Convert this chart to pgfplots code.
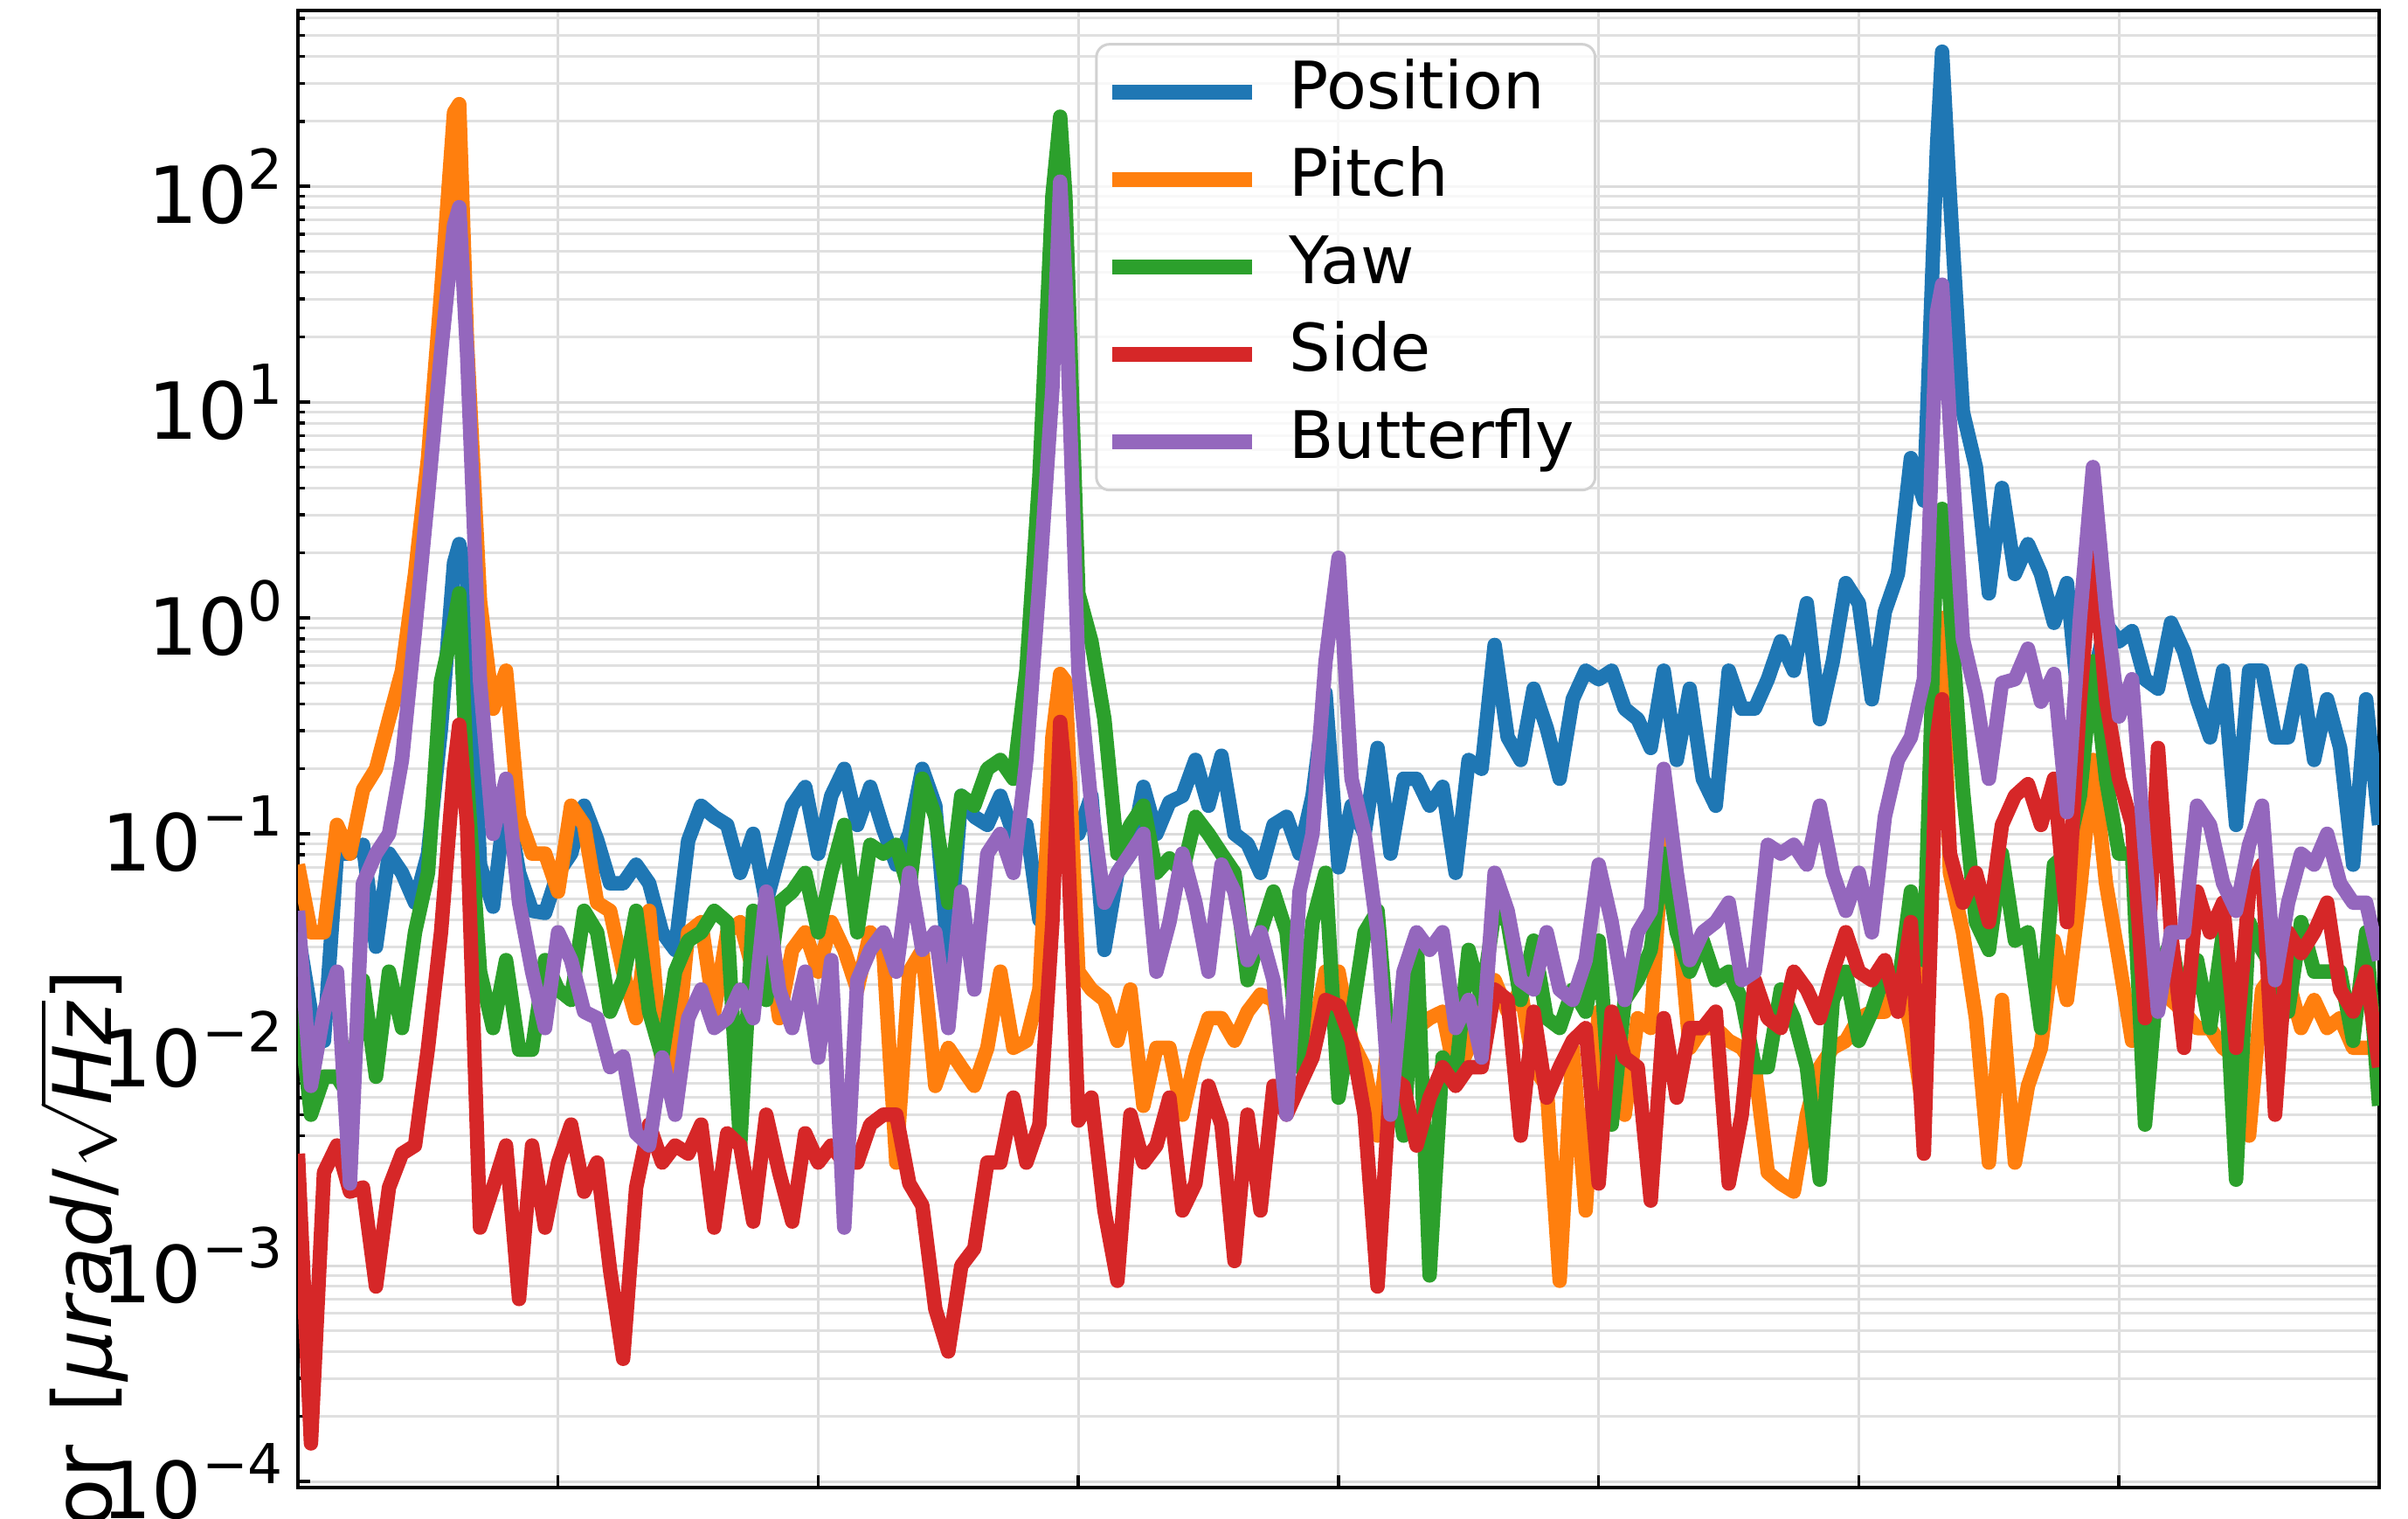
\documentclass[border=0pt]{standalone}
\usepackage{fontspec}
\setmainfont{DejaVu Sans}
\usepackage{pgfplots}
\usepackage{pgfplotstable}
\pgfplotsset{compat=1.18}
\definecolor{cpos}{HTML}{1F77B4}
\definecolor{cpit}{HTML}{FF7F0E}
\definecolor{cyaw}{HTML}{2CA02C}
\definecolor{csid}{HTML}{D62728}
\definecolor{cbfy}{HTML}{9467BD}
\newcommand\pten[1]{10\raisebox{0.44em}{\fontsize{12.6}{12.6}\selectfont #1}}
\pgfplotstableread{
x pos pit yaw sid bfy
0 0.035 0.072 0.017 0.0033 0.044
0.05 0.015 0.035 0.005 0.00015 0.0068
0.1 0.011 0.035 0.0075 0.0027 0.015
0.15 0.081 0.11 0.0075 0.0036 0.023
0.2 0.081 0.081 0.006 0.0022 0.0024
0.25 0.089 0.16 0.021 0.0023 0.059
0.3 0.030 0.2 0.0075 0.0008 0.081
0.35 0.081 0.34 0.023 0.0023 0.10
0.4 0.066 0.57 0.0126 0.0033 0.22
0.45 0.048 1.6 0.035 0.0036 0.87
0.5 0.081 5.5 0.066 0.0102 3.7
0.55 0.31 32 0.51 0.035 17
0.6 1.8 220 0.95 0.20 66
0.62 2.2 240 1.3 0.32 80
0.65 1.45 19 0.18 0.11 17
0.7 0.072 1.2 0.023 0.0015 0.51
0.75 0.046 0.38 0.0126 0.0023 0.10
0.8 0.15 0.57 0.026 0.0036 0.18
0.85 0.066 0.12 0.010 0.0007 0.048
0.9 0.044 0.081 0.010 0.0036 0.023
0.95 0.043 0.081 0.026 0.0015 0.0126
1.0 0.066 0.054 0.019 0.003 0.035
1.05 0.081 0.135 0.017 0.0045 0.026
1.1 0.135 0.11 0.044 0.0022 0.015
1.15 0.094 0.048 0.035 0.003 0.014
1.2 0.059 0.044 0.015 0.00095 0.0083
1.25 0.059 0.023 0.021 0.00037 0.0093
1.3 0.072 0.014 0.044 0.0023 0.0041
1.35 0.059 0.044 0.015 0.0045 0.0036
1.4 0.035 0.0083 0.0092 0.003 0.0092
1.45 0.029 0.0083 0.023 0.0036 0.005
1.5 0.093 0.035 0.032 0.0033 0.014
1.55 0.135 0.039 0.035 0.0045 0.019
1.6 0.12 0.015 0.044 0.0015 0.0126
1.65 0.11 0.035 0.039 0.0041 0.014
1.7 0.066 0.039 0.0036 0.0036 0.019
1.75 0.10 0.023 0.044 0.0016 0.014
1.8 0.048 0.035 0.017 0.005 0.054
1.85 0.081 0.014 0.048 0.0027 0.019
1.9 0.135 0.029 0.054 0.0016 0.0126
1.95 0.165 0.035 0.066 0.0041 0.023
2.0 0.081 0.023 0.035 0.003 0.0092
2.05 0.15 0.039 0.066 0.0036 0.026
2.1 0.20 0.029 0.11 0.003 0.0015
2.15 0.11 0.019 0.035 0.003 0.021
2.2 0.165 0.035 0.089 0.0045 0.029
2.25 0.105 0.029 0.081 0.005 0.035
2.3 0.072 0.003 0.089 0.005 0.023
2.35 0.10 0.023 0.054 0.0024 0.066
2.4 0.20 0.029 0.18 0.0019 0.029
2.45 0.135 0.0068 0.12 0.00063 0.035
2.5 0.026 0.0102 0.048 0.0004 0.0126
2.55 0.15 0.0083 0.15 0.001 0.054
2.6 0.12 0.0068 0.135 0.0012 0.019
2.65 0.11 0.0102 0.20 0.003 0.081
2.7 0.15 0.023 0.22 0.003 0.10
2.75 0.10 0.0102 0.18 0.006 0.066
2.8 0.11 0.011 0.57 0.003 0.22
2.85 0.04 0.019 4.5 0.0045 1.45
2.9 0.081 0.28 90 0.039 11.5
2.93 0.09 0.55 210 0.33 105
2.95 0.10 0.51 90 0.18 36
3.0 0.10 0.023 1.3 0.0047 0.57
3.05 0.15 0.019 0.78 0.006 0.135
3.1 0.029 0.017 0.34 0.0018 0.048
3.15 0.066 0.011 0.081 0.00085 0.066
3.2 0.081 0.019 0.11 0.005 0.081
3.25 0.165 0.0055 0.135 0.003 0.10
3.3 0.10 0.0102 0.066 0.0036 0.023
3.35 0.14 0.0102 0.077 0.006 0.039
3.4 0.15 0.005 0.066 0.0018 0.081
3.45 0.22 0.0092 0.12 0.0024 0.048
3.5 0.135 0.014 0.10 0.0068 0.023
3.55 0.23 0.014 0.081 0.0045 0.072
3.6 0.10 0.011 0.066 0.00105 0.054
3.65 0.09 0.015 0.021 0.005 0.026
3.7 0.066 0.018 0.035 0.0018 0.035
3.75 0.11 0.017 0.054 0.0068 0.021
3.8 0.12 0.0083 0.035 0.005 0.005
3.85 0.081 0.0102 0.0083 0.0068 0.054
3.9 0.15 0.011 0.039 0.0092 0.10
3.95 0.45 0.023 0.066 0.017 0.63
4.0 0.07 0.023 0.006 0.016 1.9
4.05 0.135 0.011 0.014 0.011 0.18
4.1 0.10 0.0083 0.035 0.005 0.10
4.15 0.25 0.004 0.044 0.0008 0.035
4.2 0.081 0.014 0.0083 0.0075 0.005
4.25 0.18 0.0068 0.004 0.0068 0.023
4.3 0.18 0.0126 0.034 0.0036 0.035
4.35 0.135 0.014 0.0009 0.006 0.029
4.4 0.165 0.015 0.0092 0.0083 0.035
4.45 0.066 0.0075 0.0075 0.0068 0.0126
4.5 0.22 0.0102 0.029 0.0083 0.017
4.55 0.20 0.019 0.017 0.0083 0.0092
4.6 0.75 0.021 0.044 0.019 0.066
4.65 0.28 0.015 0.039 0.017 0.044
4.7 0.22 0.019 0.017 0.004 0.021
4.75 0.47 0.0083 0.032 0.015 0.019
4.8 0.31 0.0068 0.014 0.006 0.035
4.85 0.18 0.00085 0.0126 0.0083 0.019
4.9 0.42 0.0102 0.019 0.011 0.017
4.95 0.57 0.0018 0.015 0.0126 0.026
5.0 0.52 0.015 0.032 0.0024 0.072
5.05 0.57 0.0068 0.0045 0.015 0.039
5.1 0.38 0.005 0.017 0.0092 0.017
5.15 0.34 0.014 0.021 0.0083 0.035
5.2 0.25 0.0126 0.029 0.002 0.044
5.25 0.57 0.11 0.081 0.014 0.20
5.3 0.22 0.048 0.035 0.006 0.066
5.35 0.47 0.0102 0.023 0.0126 0.026
5.4 0.18 0.0126 0.032 0.0126 0.035
5.45 0.135 0.0126 0.021 0.015 0.039
5.5 0.57 0.011 0.023 0.0024 0.048
5.55 0.38 0.0102 0.017 0.005 0.021
5.6 0.38 0.0083 0.0083 0.021 0.023
5.65 0.52 0.0027 0.0083 0.014 0.089
5.7 0.78 0.0024 0.019 0.0126 0.081
5.75 0.57 0.0022 0.014 0.023 0.089
5.8 1.17 0.005 0.0083 0.019 0.072
5.85 0.34 0.0083 0.0025 0.014 0.135
5.9 0.63 0.0102 0.017 0.023 0.066
5.95 1.45 0.011 0.023 0.035 0.044
6.0 1.17 0.014 0.011 0.023 0.066
6.05 0.42 0.015 0.015 0.021 0.035
6.1 1.07 0.015 0.023 0.026 0.12
6.15 1.6 0.023 0.019 0.015 0.22
6.2 5.5 0.0126 0.054 0.039 0.28
6.25 3.5 0.005 0.026 0.0033 0.52
6.3 150 0.87 2.5 0.28 26
6.32 420 1.0 3.2 0.42 35
6.35 90 0.066 1.2 0.081 8
6.4 9 0.035 0.16 0.048 0.8
6.45 5.0 0.014 0.039 0.066 0.44
6.5 1.3 0.003 0.029 0.039 0.18
6.55 4.0 0.017 0.081 0.11 0.50
6.6 1.6 0.003 0.032 0.15 0.52
6.65 2.2 0.0068 0.035 0.17 0.72
6.7 1.6 0.0102 0.0126 0.11 0.41
6.75 0.95 0.032 0.072 0.18 0.55
6.8 1.45 0.017 0.081 0.039 0.126
6.85 0.34 0.054 0.15 0.42 1.0
6.9 0.52 0.22 0.63 2.2 5.0
6.95 0.94 0.059 0.18 0.42 1.1
7.0 0.78 0.026 0.081 0.18 0.35
7.05 0.87 0.011 0.081 0.11 0.52
7.1 0.52 0.023 0.0045 0.014 0.081
7.15 0.47 0.023 0.023 0.25 0.015
7.2 0.95 0.017 0.032 0.035 0.035
7.25 0.70 0.015 0.015 0.0102 0.035
7.3 0.42 0.0126 0.026 0.054 0.135
7.35 0.28 0.0126 0.0126 0.035 0.11
7.4 0.57 0.0102 0.035 0.048 0.059
7.45 0.11 0.0092 0.0025 0.0102 0.044
7.5 0.57 0.004 0.039 0.054 0.089
7.55 0.57 0.019 0.029 0.072 0.135
7.6 0.28 0.023 0.023 0.005 0.021
7.65 0.28 0.021 0.015 0.035 0.048
7.7 0.57 0.0126 0.039 0.028 0.081
7.75 0.22 0.017 0.023 0.035 0.072
7.8 0.42 0.0126 0.023 0.048 0.10
7.85 0.25 0.014 0.023 0.019 0.059
7.9 0.072 0.0102 0.011 0.015 0.048
7.95 0.42 0.0102 0.035 0.023 0.048
8.0 0.11 0.0102 0.0055 0.0083 0.026
}\data
\begin{document}
\begin{tikzpicture}
\begin{axis}[
  at={(0,0)}, anchor=south west,
  scale only axis, width=476.4pt, height=338pt,
  xmin=0, xmax=8, ymode=log, ymin=9.37e-5, ymax=652,
  xtick={0,1,2,3,4,5,6,7,8}, xticklabels={},
  ytick={1e-4,1e-3,0.01,0.1,1,10,100},
  yticklabels={\pten{−4},\pten{−3},\pten{−2},\pten{−1},\pten{0},\pten{1},\pten{2}},
  minor ytick={2e-4,3e-4,4e-4,5e-4,6e-4,7e-4,8e-4,9e-4,
    2e-3,3e-3,4e-3,5e-3,6e-3,7e-3,8e-3,9e-3,
    0.02,0.03,0.04,0.05,0.06,0.07,0.08,0.09,
    0.2,0.3,0.4,0.5,0.6,0.7,0.8,0.9,
    2,3,4,5,6,7,8,9,20,30,40,50,60,70,80,90,200,300,400,500,600},
  tick pos=left, tick align=inside,
  major tick length=2.8pt, minor tick length=1.6pt,
  every tick/.style={black, line width=0.7pt},
  yticklabel style={font=\fontsize{18}{18}\selectfont, inner sep=0pt, xshift=-3.2pt},
  axis line style={line width=0.8pt},
  xmajorgrids, ymajorgrids, yminorgrids,
  major grid style={black!14, line width=0.6pt},
  minor grid style={black!12, line width=0.6pt},
  legend style={at={(0.383,0.978)}, anchor=north west, draw=black!18, line width=0.6pt,
    rounded corners=3pt, fill=white, fill opacity=0.8, text opacity=1,
    font=\fontsize{15}{15}\selectfont, inner xsep=2pt, inner ysep=1pt,
    nodes={text height=11pt, text depth=3.5pt, inner sep=2.75pt},
    /tikz/every odd column/.append style={column sep=4pt}},
  legend cell align=left,
  legend image code/.code={\draw[#1, line width=3.4pt, sharp corners] (0pt,0pt) -- (32pt,0pt);},
]
\addplot[cpos, line width=3.3pt, line join=round] table[x=x, y=pos] {\data};
\addplot[cpit, line width=3.3pt, line join=round] table[x=x, y=pit] {\data};
\addplot[cyaw, line width=3.3pt, line join=round] table[x=x, y=yaw] {\data};
\addplot[csid, line width=3.3pt, line join=round] table[x=x, y=sid] {\data};
\addplot[cbfy, line width=3.3pt, line join=round] table[x=x, y=bfy] {\data};
\legend{Position,Pitch,Yaw,Side,Butterfly}
\end{axis}
\node[rotate=90, anchor=base east, inner sep=0pt, font=\fontsize{18.5}{18.5}\selectfont]
  at (-42.6pt,118.8pt) {ASD of sensor\hspace{1.5pt} [\textit{μrad}/$\sqrt{\mbox{\textit{Hz}}}$]};
\pgfresetboundingbox
\path[use as bounding box] (-68.2pt,-7.2pt) rectangle (483pt,340.4pt);
\end{tikzpicture}
\end{document}
